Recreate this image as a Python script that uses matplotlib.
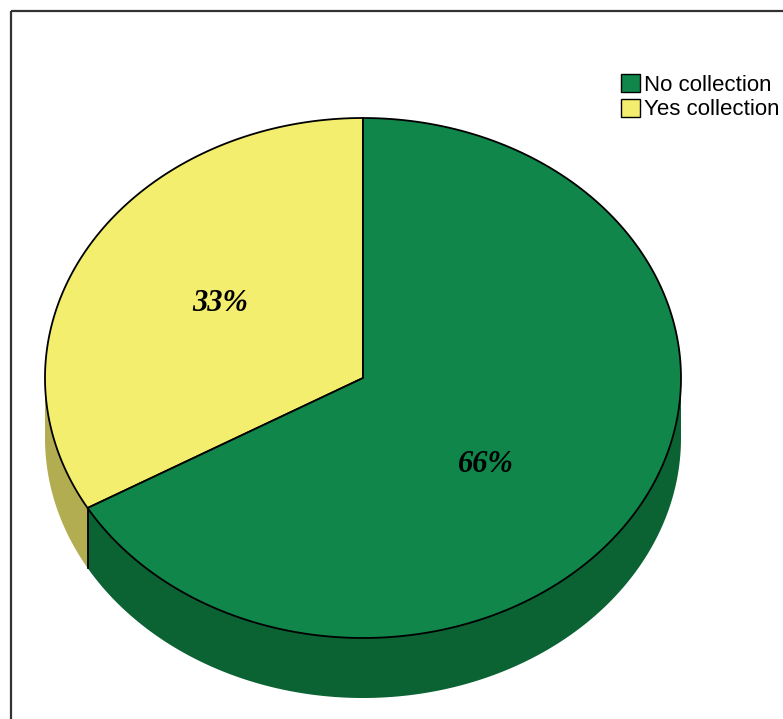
import matplotlib

matplotlib.use("Agg")
import matplotlib.pyplot as plt
import numpy as np
from matplotlib.patches import Patch, Polygon, Rectangle

labels = ["No collection", "Yes collection"]
values = [66, 33]
pct_text = ["66%", "33%"]

top_colors = ["#10864a", "#f3ee6e"]
side_colors = ["#0b6232", "#b3ad52"]

# pie geometry in pixel space
cx, cy = 363.0, 378.0
rx, ry = 318.0, 260.0
depth = 60.0
start_angle = 90.0


def arc(t0, t1, n=200, dy=0.0):
    t = np.radians(np.linspace(t0, t1, n))
    return np.column_stack([cx + rx * np.cos(t), cy - ry * np.sin(t) + dy])


fig = plt.figure(figsize=(7.83, 7.19), dpi=100)
ax = fig.add_axes([0, 0, 1, 1])
ax.set_xlim(0, 783)
ax.set_ylim(719, 0)
ax.axis("off")

ax.add_patch(Rectangle((11, 11), 800, 760, fill=False, edgecolor="#333333", lw=1.6))

# slice angles, going counter-clockwise from 12 o'clock; yellow first
total = float(sum(values))
order = [1, 0]
spans = []
a = start_angle
for i in order:
    sweep = 360.0 * values[i] / total
    spans.append((i, a, a + sweep))
    a += sweep

# side walls (front half only)
for i, a0, a1 in spans:
    for lo, hi in [(180, 360), (540, 720)]:
        s0, s1 = max(a0, lo), min(a1, hi)
        if s1 <= s0:
            continue
        top = arc(s0, s1)
        bot = arc(s1, s0, dy=depth)
        ax.add_patch(Polygon(np.vstack([top, bot]), closed=True,
                             facecolor=side_colors[i], edgecolor="none", zorder=2))

# vertical edge where the slices meet on the front
for i, a0, a1 in spans:
    ang = a1 % 360
    if 180 < ang < 360:
        p = arc(ang, ang, n=1)[0]
        ax.plot([p[0], p[0]], [p[1], p[1] + depth], color="black", lw=1.3, zorder=3)

# top faces
for i, a0, a1 in spans:
    pts = np.vstack([[cx, cy], arc(a0, a1), [cx, cy]])
    ax.add_patch(Polygon(pts, closed=True, facecolor=top_colors[i],
                         edgecolor="black", lw=1.3, joinstyle="round", zorder=4))

# percentage labels, nudged clockwise from the slice middle
for i, a0, a1 in spans:
    sweep = a1 - a0
    mid = np.radians((a0 + a1) / 2 - 0.045 * sweep)
    r = 0.52 if sweep < 180 else 0.51
    ax.text(cx + r * rx * np.cos(mid) - (8 if sweep < 180 else 0),
            cy - r * ry * np.sin(mid) + (4 if sweep < 180 else 0), pct_text[i],
            ha="center", va="center", fontsize=22, fontstyle="italic",
            fontweight="bold", family="Liberation Serif", zorder=5)

handles = [Patch(facecolor=top_colors[i], edgecolor="black", lw=1.0) for i in range(2)]
leg = ax.legend(handles, labels, loc="upper left", bbox_to_anchor=(621 / 783, 1 - 74 / 719),
                frameon=False, handlelength=0.85, handleheight=0.85, handletextpad=0.2,
                labelspacing=0.15, borderpad=0, borderaxespad=0,
                prop={"family": "Liberation Sans", "size": 16})

fig.savefig("out.png", dpi=100)
